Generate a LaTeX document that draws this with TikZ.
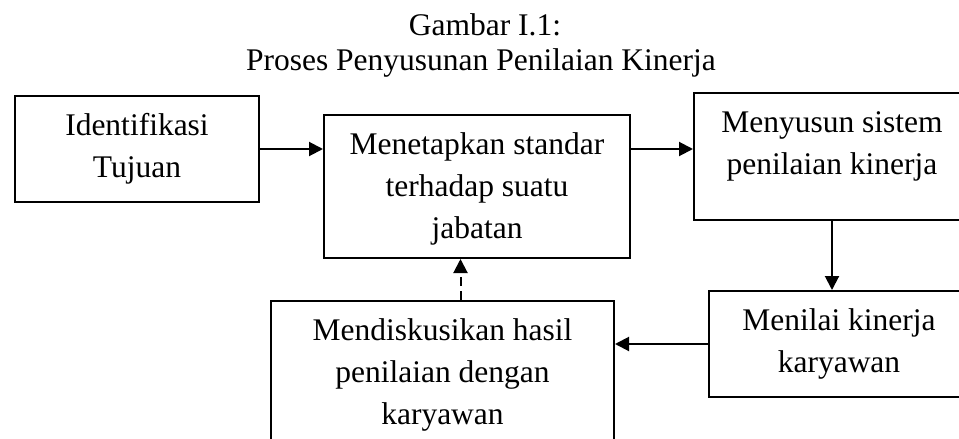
\documentclass[tikz,border=0pt]{standalone}
\usepackage{fontspec}
\setmainfont{Liberation Serif}
\usetikzlibrary{arrows.meta,calc}
\begin{document}
\begin{tikzpicture}[x=1pt,y=-1pt,
  box/.style={draw, line width=2pt, inner sep=0pt, anchor=north west},
  txt/.style={align=center, inner sep=0pt, anchor=north, font=\fontsize{31.5}{42}\selectfont},
  ttl/.style={inner sep=0pt, anchor=base, font=\fontsize{31.5}{42}\selectfont},
  arr/.style={line width=2pt, -{Triangle[length=14pt,width=14pt]}}]
\useasboundingbox (0,0) rectangle (959,439);
\clip (0,0) rectangle (959,439);
\node[ttl] (t1) at (485,35) {Gambar I.1:};
\node[ttl] (t2) at (481,70) {Proses Penyusunan Penilaian Kinerja};
\node[box, minimum width=244pt, minimum height=106pt] (A) at (14,95) {};
\node[box, minimum width=306pt, minimum height=143pt] (B) at (323,114) {};
\node[box, minimum width=276pt, minimum height=127pt] (C) at (693,92) {};
\node[box, minimum width=260pt, minimum height=106pt] (D) at (708,290) {};
\node[box, minimum width=343pt, minimum height=170pt] (E) at (270,300) {};
\node[txt] (At) at ($(A.north)+(0,10)$) {\rule{0pt}{30pt}Identifikasi\\Tujuan};
\node[txt] (Bt) at ($(B.north)+(0,10)$) {\rule{0pt}{30pt}Menetapkan standar\\terhadap suatu\\jabatan};
\node[txt] (Ct) at ($(C.north)+(0,10)$) {\rule{0pt}{30pt}Menyusun sistem\\penilaian kinerja};
\node[txt] (Dt) at ($(D.north)+(0,10)$) {\rule{0pt}{30pt}Menilai kinerja\\karyawan};
\node[txt] (Et) at ($(E.north)+(0,10)$) {\rule{0pt}{30pt}Mendiskusikan hasil\\penilaian dengan\\karyawan};
\draw[arr] (A.east) -- (A.east -| B.west);
\draw[arr] (A.east -| B.east) -- (A.east -| C.west);
\draw[arr] (C.south) -- (C.south |- D.north);
\draw[arr] (D.west) -- (D.west -| E.east);
\draw[arr, dash pattern=on 9pt off 5pt] ([xshift=18pt]E.north) -- ([xshift=18pt]E.north |- B.south);
\end{tikzpicture}
\end{document}
